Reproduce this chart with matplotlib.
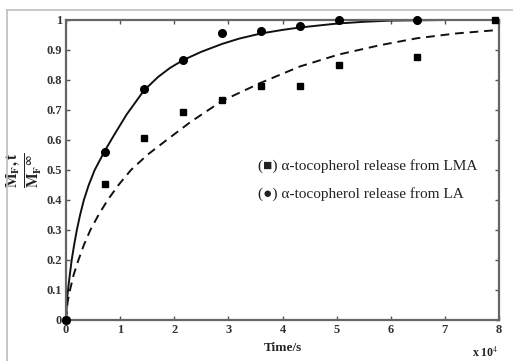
import matplotlib
matplotlib.use("Agg")
import matplotlib.pyplot as plt
from matplotlib.lines import Line2D

plt.rcParams["mathtext.fontset"] = "stix"

# Measured release data (time in units of 1e4 s)
la_t = [0, 0.72, 1.44, 2.16, 2.88, 3.6, 4.32, 5.04, 6.48]
la_release = [0, 0.56, 0.77, 0.867, 0.958, 0.963, 0.98, 1.0, 1.0]
lma_t = [0, 0.72, 1.44, 2.16, 2.88, 3.6, 4.32, 5.04, 6.48, 7.92]
lma_release = [0, 0.452, 0.607, 0.692, 0.733, 0.781, 0.781, 0.85, 0.877, 1.0]

# Model curves
la_fit_t = [0, 0.02, 0.037, 0.07, 0.105, 0.15, 0.2, 0.26, 0.33, 0.42, 0.53,
            0.72, 0.9, 1.12, 1.44, 1.7, 1.92, 2.16, 2.5, 2.88, 3.2, 3.6,
            4.0, 4.32, 5.0, 5.5, 6.0, 7.0, 8.0]
la_fit_y = [0, 0.07, 0.1, 0.15, 0.2, 0.25, 0.3, 0.35, 0.4, 0.45, 0.5,
            0.565, 0.62, 0.685, 0.765, 0.81, 0.84, 0.866, 0.894, 0.92,
            0.938, 0.955, 0.967, 0.975, 0.988, 0.994, 0.998, 1.0, 1.0]
lma_fit_t = [0, 0.03, 0.074, 0.14, 0.23, 0.33, 0.45, 0.6, 0.77, 0.97, 1.2,
             1.5, 1.86, 2.3, 2.88, 3.59, 4.32, 5.04, 5.8, 6.48, 7.2, 8.0]
lma_fit_y = [0, 0.06, 0.1, 0.15, 0.2, 0.25, 0.3, 0.35, 0.4, 0.45, 0.5,
             0.55, 0.6, 0.66, 0.73, 0.79, 0.845, 0.885, 0.916, 0.939,
             0.955, 0.967]

x_ticks = [0, 1, 2, 3, 4, 5, 6, 7, 8]
y_ticks = [0, 0.1, 0.2, 0.3, 0.4, 0.5, 0.6, 0.7, 0.8, 0.9, 1.0]
y_tick_labels = ["0", "0.1", "0.2", "0.3", "0.4", "0.5", "0.6", "0.7", "0.8", "0.9", "1"]

serif = ["Liberation Serif", "DejaVu Serif"]

fig = plt.figure(figsize=(5.13, 3.61), dpi=100)
fig.patch.set_facecolor("white")

# light outer frame
fig.add_artist(Line2D([7 / 513, 1.0], [1 - 10 / 361, 1 - 10 / 361],
                      transform=fig.transFigure, color="#bdbdbd", lw=1.2))
fig.add_artist(Line2D([7 / 513, 7 / 513], [0, 1 - 10 / 361],
                      transform=fig.transFigure, color="#bdbdbd", lw=1.2))

ax = fig.add_axes([66 / 513, 41 / 361, 433 / 513, 300 / 361])

ax.plot(la_fit_t, la_fit_y, color="#111111", lw=1.4,
        solid_joinstyle="round", solid_capstyle="round")
ax.plot(lma_fit_t, lma_fit_y, color="#111111", lw=1.4, dashes=(4.5, 3),
        dash_joinstyle="round")
ax.plot(la_t, la_release, "o", color="black", ms=5.5, clip_on=False, zorder=4)
ax.plot(lma_t, lma_release, "s", color="black", ms=4.6, clip_on=False, zorder=5)

ax.set_xlim(0, 8)
ax.set_ylim(0, 1)
ax.set_xticks(x_ticks)
ax.set_xticklabels([str(v) for v in x_ticks])
ax.set_yticks(y_ticks)
ax.set_yticklabels(y_tick_labels)

for sp in ax.spines.values():
    sp.set_color("#666666")
    sp.set_linewidth(1.6)

ax.tick_params(direction="in", length=3, width=1, color="#555555",
               top=True, right=True, pad=3)
for lbl in ax.get_xticklabels() + ax.get_yticklabels():
    lbl.set_fontfamily(serif)
    lbl.set_fontweight("bold")
    lbl.set_fontsize(9)
    lbl.set_color("#333333")

ax.set_xlabel("Time/s", fontfamily=serif, fontweight="bold", fontsize=9.5,
              color="#222222", labelpad=4)
ax.set_ylabel(r"$\frac{\mathbf{M_{F},t}}{\mathbf{M_{F}{}^{\infty}}}$",
              fontsize=16, color="#222222", labelpad=2)

ax.text(1.0, -0.11, r"x 10$^{4}$", transform=ax.transAxes, ha="right",
        va="center", fontfamily=serif, fontweight="bold", fontsize=8.5,
        color="#222222")

ax.text(0.444, 0.513, "(\u25A0) \u03b1-tocopherol release from LMA",
        transform=ax.transAxes, fontfamily=serif, fontsize=11,
        color="#222222", va="center", ha="left")
ax.text(0.444, 0.42, "(\u25CF) \u03b1-tocopherol release from LA",
        transform=ax.transAxes, fontfamily=serif, fontsize=11,
        color="#222222", va="center", ha="left")

fig.savefig("out.png", dpi=100, facecolor="white")
